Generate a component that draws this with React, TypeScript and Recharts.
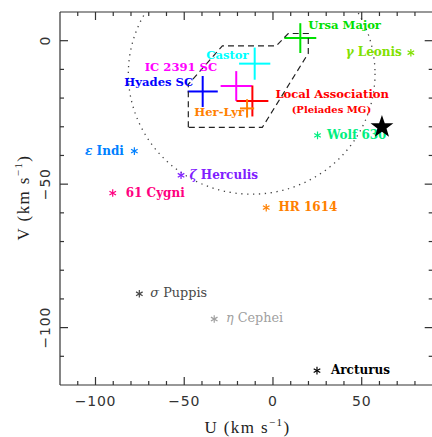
import React from "react";
import { ScatterChart, Scatter, XAxis, YAxis, ErrorBar, ReferenceArea } from "recharts";

// moving groups: mean (U, V) and spread, km/s
const groupNames = ["Ursa Major", "Castor", "IC 2391 SC", "Hyades SC", "Local Association", "Her-Lyr"];
const groupU = [15.4, -10.3, -20.7, -39.6, -11.6, -14.6];
const groupV = [0.9, -8.0, -15.8, -17.7, -21.0, -23.6];
const groupErrU = [9.0, 8.8, 8.8, 8.5, 9.0, 4.0];
const groupErrV = [5.2, 5.6, 5.2, 5.4, 5.4, 3.2];

// individual stars
const starNames = ["γ Leonis", "Wolf 630", "ε Indi", "ζ Herculis", "61 Cygni", "HR 1614", "σ Puppis", "η Cephei", "Arcturus"];
const starU = [77.7, 25.1, -78.1, -51.8, -90.3, -3.8, -75.3, -33.1, 24.8];
const starV = [-4.2, -33.0, -38.5, -46.9, -53.1, -58.2, -88.2, -97.0, -115.0];

// the big star
const sunU = [61.4];
const sunV = [-30.1];

// dashed young-disk box outline
const boxU = [-47.7, -47.7, -28.5, 1.9, 8.6, 19.9, 19.9, -6.0, -47.7];
const boxV = [-30.2, -15.2, -1.8, -1.8, 2.5, 2.5, -4.4, -30.2, -30.2];

// dotted velocity ellipse: bounding box in U and V
const ellipseU = [-81.5, 57.5];
const ellipseV = [-53.5, 30.5];

const uDomain = [-120, 90];
const vDomain = [-120, 10];
const uTicks = [-110, -100, -90, -80, -70, -60, -50, -40, -30, -20, -10, 0, 10, 20, 30, 40, 50, 60, 70, 80];
const vTicks = [0, -10, -20, -30, -40, -50, -60, -70, -80, -90, -100, -110];

const groupStyle: Record<string, { color: string; dx: number; dy: number; anchor: "start" | "end" | "middle" }> = {
  "Ursa Major": { color: "#00e000", dx: 8, dy: -9, anchor: "start" },
  Castor: { color: "#00ffff", dx: -6, dy: -5, anchor: "end" },
  "IC 2391 SC": { color: "#ff00ff", dx: -19, dy: -15, anchor: "end" },
  "Hyades SC": { color: "#0000ff", dx: -9.5, dy: -5, anchor: "end" },
  "Local Association": { color: "#ff0000", dx: 23, dy: -2.5, anchor: "start" },
  "Her-Lyr": { color: "#ff8000", dx: -3, dy: 7.5, anchor: "end" },
};

const starStyle: Record<string, { color: string; dx: number; dy: number; anchor: "start" | "end"; bold: boolean }> = {
  "γ Leonis": { color: "#80e000", dx: -9, dy: 3.5, anchor: "end", bold: true },
  "Wolf 630": { color: "#00ee80", dx: 9.5, dy: 3.5, anchor: "start", bold: true },
  "ε Indi": { color: "#0080ff", dx: -10.5, dy: 3.5, anchor: "end", bold: true },
  "ζ Herculis": { color: "#8020ff", dx: 8.5, dy: 3.5, anchor: "start", bold: true },
  "61 Cygni": { color: "#ff0080", dx: 13, dy: 3.5, anchor: "start", bold: true },
  "HR 1614": { color: "#ff8000", dx: 12.3, dy: 3.5, anchor: "start", bold: true },
  "σ Puppis": { color: "#484848", dx: 11, dy: 3, anchor: "start", bold: false },
  "η Cephei": { color: "#a0a0a0", dx: 11.7, dy: 3, anchor: "start", bold: false },
  Arcturus: { color: "#000000", dx: 14, dy: 3, anchor: "start", bold: true },
};

const W = 440;
const H = 437;
const PLOT_L = 60;
const PLOT_T = 12;
const PLOT_R = 432.7;
const PLOT_B = 385;
const AXIS_PAD = 1;
const AX = "#333";
const SERIF = "'DejaVu Serif', serif";
const TICK_FONT = "'DejaVu Sans', sans-serif";

const groups = groupNames.map((name, i) => ({ name, u: groupU[i], v: groupV[i], eu: groupErrU[i], ev: groupErrV[i] }));
const stars = starNames.map((name, i) => ({ name, u: starU[i], v: starV[i] }));
const sun = sunU.map((u, i) => ({ u, v: sunV[i] }));
const box = boxU.map((u, i) => ({ u, v: boxV[i] }));

const isMajor = (v: number) => v % 50 === 0;
const fmt = (v: number) => (v < 0 ? `\u2212${-v}` : `${v}`);
const tickLen = (v: number) => (isMajor(v) ? 8 : 4);

function BottomTick({ x, payload }: any) {
  const v = payload.value;
  return (
    <g>
      <line x1={x} x2={x} y1={PLOT_B} y2={PLOT_B - tickLen(v)} stroke={AX} strokeWidth={1.2} />
      {isMajor(v) && (
        <text x={x} y={406} textAnchor="middle" fontFamily={TICK_FONT} fontSize={14} letterSpacing={0.8} fill="#333">
          {fmt(v)}
        </text>
      )}
    </g>
  );
}

function TopTick({ x, payload }: any) {
  const v = payload.value;
  return <line x1={x} x2={x} y1={PLOT_T} y2={PLOT_T + tickLen(v)} stroke={AX} strokeWidth={1.2} />;
}

function LeftTick({ y, payload }: any) {
  const v = payload.value;
  const lx = 50.5;
  return (
    <g>
      <line x1={PLOT_L} x2={PLOT_L + tickLen(v)} y1={y} y2={y} stroke={AX} strokeWidth={1.2} />
      {isMajor(v) && (
        <text
          x={lx}
          y={y}
          transform={`rotate(-90, ${lx}, ${y})`}
          textAnchor="middle"
          fontFamily={TICK_FONT}
          fontSize={14}
          letterSpacing={0.8}
          fill="#333"
        >
          {fmt(v)}
        </text>
      )}
    </g>
  );
}

function RightTick({ y, payload }: any) {
  const v = payload.value;
  return <line x1={PLOT_R} x2={PLOT_R - tickLen(v)} y1={y} y2={y} stroke={AX} strokeWidth={1.2} />;
}

// greek prefix in italics, like the plotting package's math mode
function Name({ text }: { text: string }) {
  const greek = /^[\u03b1-\u03c9]/.test(text);
  if (!greek) return <>{text}</>;
  return (
    <>
      <tspan fontStyle="italic">{text[0]}</tspan>
      {text.slice(1)}
    </>
  );
}

function GroupLabel({ cx, cy, payload }: any) {
  const s = groupStyle[payload.name];
  return (
    <g>
      <text x={cx + s.dx} y={cy + s.dy} textAnchor={s.anchor} fill={s.color} fontFamily={SERIF} fontSize={11.6} fontWeight="bold">
        {payload.name}
      </text>
      {payload.name === "Local Association" && (
        <text x={cx + 79} y={cy + 12.5} textAnchor="middle" fill={s.color} fontFamily={SERIF} fontSize={10} fontWeight="bold">
          (Pleiades MG)
        </text>
      )}
    </g>
  );
}

function Asterisk({ cx, cy, payload }: any) {
  const s = starStyle[payload.name];
  const r = 3.8;
  const a = r * Math.cos(Math.PI / 6);
  const b = r * Math.sin(Math.PI / 6);
  return (
    <g>
      <g stroke={s.color} strokeWidth={1.2}>
        <line x1={cx} y1={cy - r} x2={cx} y2={cy + r} />
        <line x1={cx - a} y1={cy - b} x2={cx + a} y2={cy + b} />
        <line x1={cx - a} y1={cy + b} x2={cx + a} y2={cy - b} />
      </g>
      <text
        x={cx + s.dx}
        y={cy + s.dy}
        textAnchor={s.anchor}
        fill={s.color}
        fontFamily={SERIF}
        fontSize={s.bold ? 12 : 12.8}
        fontWeight={s.bold ? "bold" : "normal"}
      >
        <Name text={payload.name} />
      </text>
    </g>
  );
}

function BigStar({ cx, cy }: any) {
  const R = 12;
  const r = 4.8;
  const pts: string[] = [];
  for (let k = 0; k < 10; k++) {
    const ang = -Math.PI / 2 + (k * Math.PI) / 5;
    const rad = k % 2 === 0 ? R : r;
    pts.push(`${cx + rad * Math.cos(ang)},${cy + rad * Math.sin(ang)}`);
  }
  return <polygon points={pts.join(" ")} fill="#000" />;
}

function EllipseShape({ x, y, width, height }: any) {
  return (
    <g>
      <defs>
        <clipPath id="frame-clip">
          <rect x={PLOT_L} y={PLOT_T} width={PLOT_R - PLOT_L} height={PLOT_B - PLOT_T} />
        </clipPath>
      </defs>
      <ellipse
        clipPath="url(#frame-clip)"
        cx={x + width / 2}
        cy={y + height / 2}
        rx={Math.abs(width) / 2}
        ry={Math.abs(height) / 2}
        fill="none"
        stroke="#444"
        strokeWidth={1.3}
        strokeDasharray="1.3 4.6"
      />
    </g>
  );
}

const noMark = () => <g />;

export default function App() {
  return (
    <div style={{ position: "absolute", left: 0, top: 0, width: 432, height: 437, overflow: "hidden", background: "#fff" }}>
      <ScatterChart
        width={W}
        height={H}
        margin={{
          top: PLOT_T - AXIS_PAD,
          right: W - PLOT_R - AXIS_PAD,
          bottom: H - PLOT_B - AXIS_PAD,
          left: PLOT_L - AXIS_PAD,
        }}
      >
        <XAxis
          xAxisId="u"
          dataKey="u"
          type="number"
          domain={uDomain}
          ticks={uTicks}
          interval={0}
          allowDataOverflow
          height={AXIS_PAD}
          tickLine={false}
          tickSize={0}
          axisLine={{ stroke: AX, strokeWidth: 1.2 }}
          tick={BottomTick}
        />
        <XAxis
          xAxisId="uTop"
          orientation="top"
          dataKey="u"
          type="number"
          domain={uDomain}
          ticks={uTicks}
          interval={0}
          allowDataOverflow
          height={AXIS_PAD}
          tickLine={false}
          tickSize={0}
          axisLine={{ stroke: AX, strokeWidth: 1.2 }}
          tick={TopTick}
        />
        <YAxis
          yAxisId="v"
          dataKey="v"
          type="number"
          domain={vDomain}
          ticks={vTicks}
          interval={0}
          allowDataOverflow
          width={AXIS_PAD}
          tickLine={false}
          tickSize={0}
          axisLine={{ stroke: AX, strokeWidth: 1.2 }}
          tick={LeftTick}
        />
        <YAxis
          yAxisId="vRight"
          orientation="right"
          dataKey="v"
          type="number"
          domain={vDomain}
          ticks={vTicks}
          interval={0}
          allowDataOverflow
          width={AXIS_PAD}
          tickLine={false}
          tickSize={0}
          axisLine={{ stroke: AX, strokeWidth: 1.2 }}
          tick={RightTick}
        />

        <ReferenceArea
          xAxisId="u"
          yAxisId="v"
          x1={ellipseU[0]}
          x2={ellipseU[1]}
          y1={ellipseV[0]}
          y2={ellipseV[1]}
          ifOverflow="visible"
          shape={EllipseShape}
        />

        <Scatter
          xAxisId="u"
          yAxisId="v"
          data={box}
          isAnimationActive={false}
          line={{ stroke: "#222", strokeWidth: 1.2, strokeDasharray: "6 4" }}
          lineType="joint"
          shape={noMark}
        />

        {groups.map((g) => {
          const c = groupStyle[g.name].color;
          return (
            <Scatter key={g.name} xAxisId="u" yAxisId="v" data={[g]} isAnimationActive={false} shape={GroupLabel}>
              <ErrorBar dataKey="eu" direction="x" width={0} stroke={c} strokeWidth={2} />
              <ErrorBar dataKey="ev" direction="y" width={0} stroke={c} strokeWidth={2} />
            </Scatter>
          );
        })}

        <Scatter xAxisId="u" yAxisId="v" data={stars} isAnimationActive={false} shape={Asterisk} />
        <Scatter xAxisId="u" yAxisId="v" data={sun} isAnimationActive={false} shape={BigStar} />
      </ScatterChart>

      <svg width={432} height={437} style={{ position: "absolute", left: 0, top: 0, pointerEvents: "none" }}>
        <text x={247.5} y={433} textAnchor="middle" fontFamily="'Liberation Serif', serif" fontSize={17} letterSpacing={1.4} fill="#222">
          U (km s<tspan dy={-7} fontSize={11}>{"\u22121"}</tspan>
          <tspan dy={7}>)</tspan>
        </text>
        <text
          x={29}
          y={197.5}
          transform="rotate(-90, 29, 197.5)"
          textAnchor="middle"
          fontFamily="'Liberation Serif', serif"
          fontSize={17}
          letterSpacing={1.4}
          fill="#222"
        >
          V (km s<tspan dy={-7} fontSize={11}>{"\u22121"}</tspan>
          <tspan dy={7}>)</tspan>
        </text>
      </svg>
    </div>
  );
}
